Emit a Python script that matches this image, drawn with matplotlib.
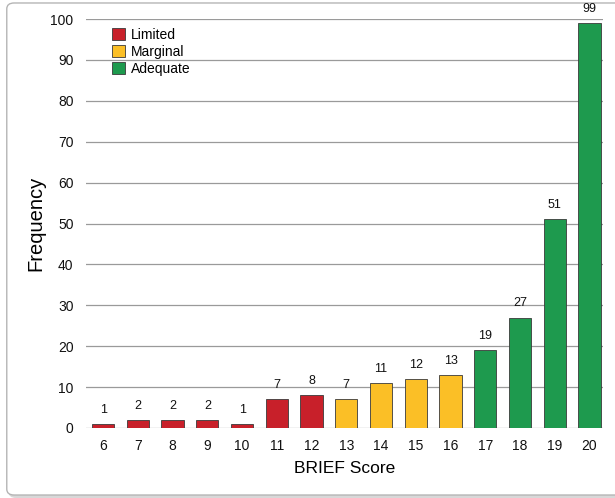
import matplotlib
matplotlib.use("Agg")
import matplotlib.pyplot as plt
from matplotlib.patches import FancyBboxPatch, Patch

plt.rcParams['font.family'] = ['Liberation Sans', 'DejaVu Sans']

scores = [6, 7, 8, 9, 10, 11, 12, 13, 14, 15, 16, 17, 18, 19, 20]
counts = [1, 2, 2, 2, 1, 7, 8, 7, 11, 12, 13, 19, 27, 51, 99]
levels = ["Limited"] * 7 + ["Marginal"] * 4 + ["Adequate"] * 4
level_names = ["Limited", "Marginal", "Adequate"]
level_colors = {"Limited": "#C8202A", "Marginal": "#FBBF26", "Adequate": "#1E9A4E"}
y_ticks = [0, 10, 20, 30, 40, 50, 60, 70, 80, 90, 100]

fig = plt.figure(figsize=(6.15, 4.98), dpi=100)

# rounded panel frame with a soft shadow
shadow = FancyBboxPatch((0.014, 0.0), 1.02, 0.99, boxstyle="round,pad=0,rounding_size=0.012",
                        transform=fig.transFigure, facecolor="#d8d8d8", edgecolor="none", zorder=-2)
panel = FancyBboxPatch((0.011, 0.006), 1.02, 0.988, boxstyle="round,pad=0,rounding_size=0.012",
                       transform=fig.transFigure, facecolor="white", edgecolor="#b5b5b5",
                       linewidth=1.0, zorder=-1)
fig.patches.extend([shadow, panel])

ax = fig.add_axes([0.140, 0.1406, 0.840, 0.8212])
ax.set_facecolor("none")
ax.set_zorder(1)

colors = [level_colors[l] for l in levels]
bars = ax.bar(scores, counts, width=0.64, color=colors, edgecolor="#3a3a3a", linewidth=0.6, zorder=3)

for x, v in zip(scores, counts):
    ax.text(x, v + 2.0, str(v), ha="center", va="bottom", fontsize=9, color="#111111", clip_on=False)

ax.set_xlim(5.51, 20.38)
ax.set_ylim(0, 100)
ax.set_yticks(y_ticks)
ax.set_xticks(scores)
ax.set_xticklabels([str(s) for s in scores])
ax.tick_params(axis="both", length=0, labelsize=10, colors="#111111")
ax.tick_params(axis="x", pad=8)
ax.tick_params(axis="y", pad=9)
ax.grid(axis="y", color="#9a9a9a", linewidth=0.9, zorder=0)
ax.set_axisbelow(True)
for s in ax.spines.values():
    s.set_visible(False)

ax.set_xlabel("BRIEF Score", fontsize=12.5, labelpad=6)
ax.set_ylabel("Frequency", fontsize=14.5, labelpad=4)

handles = [Patch(facecolor=level_colors[n], edgecolor="#3a3a3a", linewidth=0.6, label=n) for n in level_names]
leg = ax.legend(handles=handles, loc="upper left", bbox_to_anchor=(0.050, 0.978), frameon=False,
                fontsize=10, handlelength=0.95, handleheight=0.95, handletextpad=0.4,
                labelspacing=0.22, borderaxespad=0, borderpad=0)

fig.savefig("out.png", dpi=100)
